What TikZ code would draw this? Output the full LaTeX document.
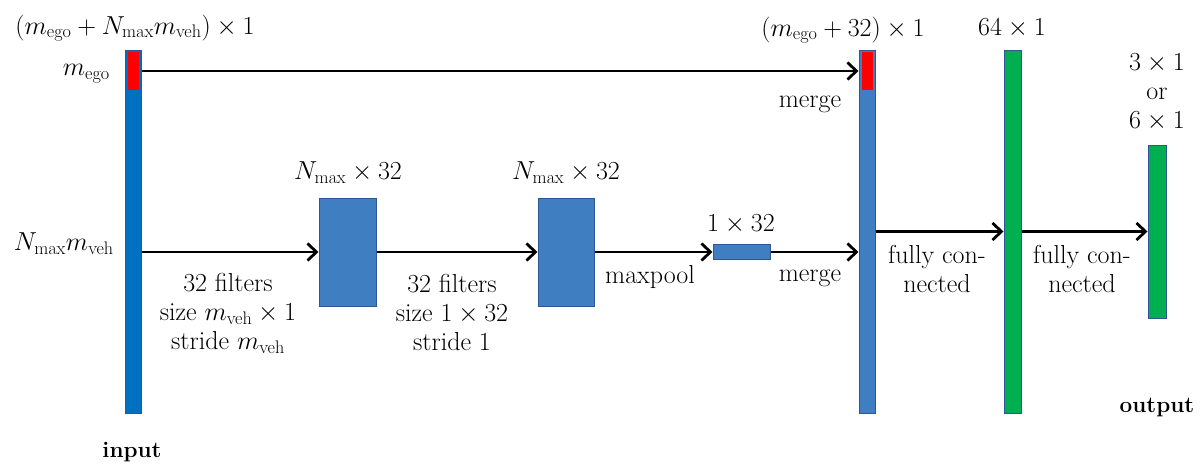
\RequirePackage{fix-cm}
\documentclass[tikz,border=0pt]{standalone}
\usepackage{amsmath}
\usepackage{tikz}
\usetikzlibrary{shapes,arrows.meta,positioning}
\definecolor{inblue}{RGB}{0,112,192}
\definecolor{layblue}{RGB}{62,126,193}
\definecolor{edgeblue}{RGB}{47,85,151}
\definecolor{fcgreen}{RGB}{0,176,80}
\tikzstyle{layer} = [rectangle, draw=edgeblue, line width=1pt, inner sep=0pt]
\tikzstyle{ego} = [rectangle, fill=red, inner sep=0pt, minimum width=11pt, minimum height=38pt]
\tikzstyle{flow} = [draw, line width=2.8pt, -{Straight Barb[length=9pt,width=17pt]}]
\tikzstyle{txt} = [font=\fontsize{26}{29}\selectfont, align=center, inner sep=0pt]
\tikzstyle{btxt} = [font=\fontsize{22.5}{27}\selectfont\bfseries, inner sep=0pt]

\begin{document}
\begin{tikzpicture}[x=1pt, y=-1pt]
			\useasboundingbox (0, 0) rectangle (1203, 471);

			\node [layer, fill=inblue, minimum width=16pt, minimum height=363pt] (inbar) at (133, 231.5) {};
			\node [ego] (inego) at (133, 71) {};
			\node [layer, fill=layblue, minimum width=57pt, minimum height=108pt] (conv1) at (347.5, 252) {};
			\node [layer, fill=layblue, minimum width=56pt, minimum height=108pt] (conv2) at (566, 252) {};
			\node [layer, fill=layblue, minimum width=57pt, minimum height=15pt] (pool) at (741.5, 252) {};
			\node [layer, fill=layblue, minimum width=16pt, minimum height=363pt] (mbar) at (867, 231.5) {};
			\node [ego] (mego) at (867, 71) {};
			\node [layer, fill=fcgreen, minimum width=17pt, minimum height=363pt] (fcbar) at (1012.5, 231.5) {};
			\node [layer, fill=fcgreen, minimum width=18pt, minimum height=173pt] (outbar) at (1157, 231.5) {};

			\node [txt] (intop) at (135, 28) {$(m_{\mathrm{ego}} + N_{\mathrm{max}} m_{\mathrm{veh}}) \times 1$};
			\node [txt, anchor=east] (egolbl) at (110, 74) {$m_{\mathrm{ego}}$};
			\node [txt, anchor=east] (vehlbl) at (114, 244) {$N_{\mathrm{max}} m_{\mathrm{veh}}$};
			\node [txt] (filt1) at (228, 313) {32 filters\\size $m_{\mathrm{veh}} \times 1$\\stride $m_{\mathrm{veh}}$};
			\node [txt] (c1lbl) at (348, 173) {$N_{\mathrm{max}} \times 32$};
			\node [txt] (filt2) at (452, 312) {32 filters\\size $1 \times 32$\\stride 1};
			\node [txt] (c2lbl) at (566, 173) {$N_{\mathrm{max}} \times 32$};
			\node [txt] (poollbl) at (650, 277) {maxpool};
			\node [txt] (psize) at (741, 224) {$1 \times 32$};
			\node [txt] (merge1) at (810, 104) {merge};
			\node [txt] (merge2) at (810, 278) {merge};
			\node [txt] (mtop) at (843, 30) {$(m_{\mathrm{ego}} + 32) \times 1$};
			\node [txt] (fctop) at (1012, 28) {$64 \times 1$};
			\node [txt] (outtop) at (1157, 92) {$3 \times 1$\\or\\$6 \times 1$};
			\node [txt] (fc1lbl) at (937, 269) {fully con-\\nected};
			\node [txt] (fc2lbl) at (1082, 269) {fully con-\\nected};
			\node [btxt] (outlbl) at (1157, 408) {output};
			\node [btxt] (inlbl) at (132, 452) {input};

			\path [flow] (inego -| inbar.east) -- (inego -| mbar.west);
			\path [flow] (conv1.west -| inbar.east) -- (conv1.west);
			\path [flow] (conv1) -- (conv2);
			\path [flow] (conv2) -- (pool);
			\path [flow] (pool) -- (pool -| mbar.west);
			\path [flow] (outbar -| mbar.east) -- (outbar -| fcbar.west);
			\path [flow] (outbar -| fcbar.east) -- (outbar.west);
		\end{tikzpicture}
\end{document}
